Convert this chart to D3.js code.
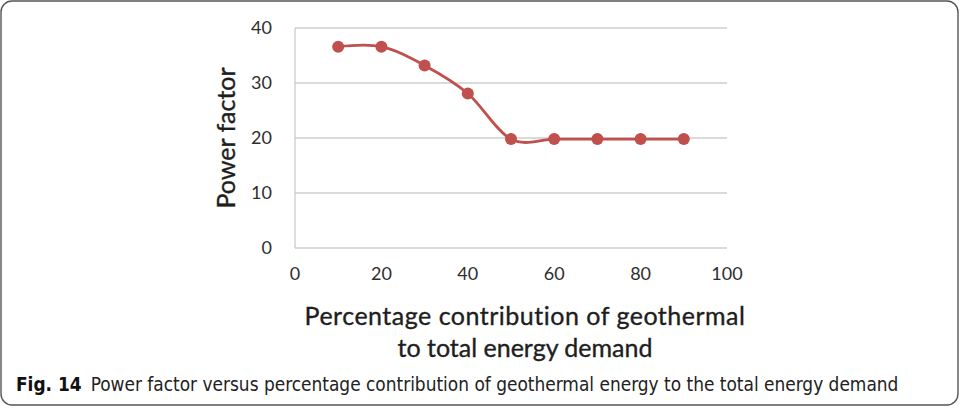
<!DOCTYPE html>
<html><head><meta charset="utf-8">
<script src="https://cdn.jsdelivr.net/npm/d3@7"></script>
<style>
html,body{margin:0;padding:0;background:#fff;}
svg{display:block;}
</style></head>
<body>
<script>
const xValues = [10, 20, 30, 40, 50, 60, 70, 80, 90];
const yValues = [36.6, 36.6, 33.2, 28.1, 19.8, 19.8, 19.8, 19.8, 19.8];
const xTicks = [0, 20, 40, 60, 80, 100];
const yTicks = [0, 10, 20, 30, 40];
const xTitle = ["Percentage contribution of geothermal", "to total energy demand"];
const yTitle = "Power factor";
const captionBold = "Fig. 14";
const captionText = "Power factor versus percentage contribution of geothermal energy to the total energy demand";

const W = 959, H = 408;
const svg = d3.select("body").append("svg").attr("width", W).attr("height", H);

// frame
svg.append("rect").attr("x", 1).attr("y", 1).attr("width", W - 2).attr("height", H - 4)
  .attr("rx", 11).attr("ry", 11).attr("fill", "#fff").attr("stroke", "#555").attr("stroke-width", 1.4);

const x = d3.scaleLinear().domain([0, 100]).range([295, 727]);
const y = d3.scaleLinear().domain([0, 40]).range([248, 28]);
const font = "Lato, 'Open Sans', sans-serif";
const textColor = "#2e2e2e";

// gridlines
svg.append("g").selectAll("line").data(yTicks).join("line")
  .attr("x1", x(0)).attr("x2", x(100))
  .attr("y1", d => y(d)).attr("y2", d => y(d))
  .attr("stroke", "#dadada").attr("stroke-width", 1.8);
// y axis line
svg.append("line").attr("x1", x(0)).attr("x2", x(0)).attr("y1", y(40)).attr("y2", y(0))
  .attr("stroke", "#c8c8c8").attr("stroke-width", 1.2);

// y tick labels
svg.append("g").selectAll("text").data(yTicks).join("text")
  .attr("x", 272).attr("y", d => y(d)).attr("dy", "0.35em")
  .attr("text-anchor", "end").attr("font-family", font).attr("font-size", 18).attr("font-weight", 400)
  .attr("fill", textColor).text(d => d);
// x tick labels
svg.append("g").selectAll("text").data(xTicks).join("text")
  .attr("x", d => x(d)).attr("y", 280)
  .attr("text-anchor", "middle").attr("font-family", font).attr("font-size", 18).attr("font-weight", 400)
  .attr("fill", textColor).text(d => d);

// axis titles
svg.append("text").attr("transform", "translate(235,138) rotate(-90)")
  .attr("text-anchor", "middle").attr("font-family", font).attr("font-size", 25).attr("font-weight", 400)
  .attr("fill", "#1e1e1e").attr("stroke", "#1e1e1e").attr("stroke-width", 0.35).text(yTitle);
svg.append("g").selectAll("text").data(xTitle).join("text")
  .attr("x", 525).attr("y", (d, i) => 325 + i * 31.5)
  .attr("text-anchor", "middle").attr("font-family", font).attr("font-size", 25).attr("font-weight", 400)
  .attr("letter-spacing", (d, i) => i === 0 ? 0.5 : 0)
  .attr("fill", "#1e1e1e").attr("stroke", "#1e1e1e").attr("stroke-width", 0.35).text(d => d);

// line
const pts = xValues.map((v, i) => [v, yValues[i]]);
svg.append("path").datum(pts)
  .attr("d", d3.line().x(d => x(d[0])).y(d => y(d[1])).curve(d3.curveCardinal.tension(0)))
  .attr("fill", "none").attr("stroke", "#c0504d").attr("stroke-width", 2.8);
svg.append("g").selectAll("circle").data(pts).join("circle")
  .attr("cx", d => x(d[0])).attr("cy", d => y(d[1])).attr("r", 6)
  .attr("fill", "#c0504d");

// caption
const cap = svg.append("text").attr("x", 16).attr("y", 391)
  .attr("font-family", "'Liberation Sans Narrow', 'DejaVu Sans Condensed', sans-serif").attr("font-size", 18.9).attr("fill", "#111");
cap.append("tspan").attr("font-weight", 700).text(captionBold);
cap.append("tspan").attr("dx", 9).attr("fill", "#222").text(captionText);
</script>
</body></html>
